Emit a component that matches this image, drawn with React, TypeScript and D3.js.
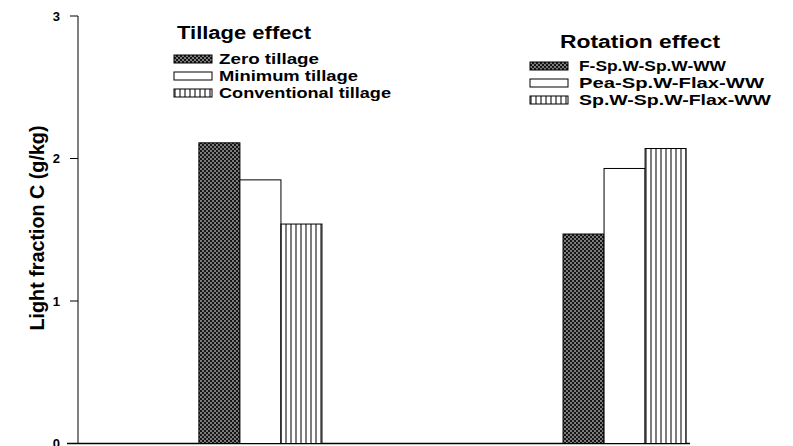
import React from 'react';
import * as d3 from 'd3';

const groups = ['Tillage effect', 'Rotation effect'];
const tillageLabels = ['Zero tillage', 'Minimum tillage', 'Conventional tillage'];
const rotationLabels = ['F-Sp.W-Sp.W-WW', 'Pea-Sp.W-Flax-WW', 'Sp.W-Sp.W-Flax-WW'];
const tillageValues = [2.11, 1.85, 1.54];
const rotationValues = [1.47, 1.93, 2.07];
const yTicks = [0, 1, 2, 3];

const fills = ['url(#stipple)', '#fff', 'url(#vlines)'];
const font = "'Liberation Sans', Arial, Helvetica, sans-serif";

const W = 793;
const H = 446;

// the scanned figure uses a wide Helvetica; stretch text to the widths it had
const titleWidths = [134, 160];
const legendWidths = [[100, 139, 172], [147, 185, 192]];

const App = () => {
  const y = d3.scaleLinear().domain([0, 3]).range([443.5, 16]);
  const x = d3.scaleBand().domain(groups).range([78, 807]).paddingInner(0.662).paddingOuter(0.332);
  const inner = d3.scaleBand().domain(['0', '1', '2']).range([0, x.bandwidth()]);

  const series = [
    { group: groups[0], values: tillageValues, labels: tillageLabels },
    { group: groups[1], values: rotationValues, labels: rotationLabels },
  ];
  // legend placement per group
  const legendPos = [
    { tx: 244, ty: 32, sx: 174, sy: 59, gap: 45 },
    { tx: 640, ty: 41, sx: 530, sy: 66, gap: 49 },
  ];

  return (
    <svg width={W} height={H} style={{ position: 'absolute', left: 0, top: 0, background: '#fff' }}>
      <defs>
        <pattern id="stipple" width="4" height="4" patternUnits="userSpaceOnUse">
          <rect width="4" height="4" fill="#151515" />
          <circle cx="1" cy="1" r="0.8" fill="#fff" />
          <circle cx="3" cy="3" r="0.8" fill="#fff" />
        </pattern>
        <pattern id="vlines" width="5" height="10" patternUnits="userSpaceOnUse">
          <rect width="5" height="10" fill="#fff" />
          <line x1="1" y1="0" x2="1" y2="10" stroke="#111" strokeWidth="1.1" />
        </pattern>
      </defs>

      {/* y axis */}
      <line x1={78} x2={78} y1={y(3)} y2={y(0)} stroke="#000" strokeWidth={1} />
      <line x1={67} x2={690} y1={y(0)} y2={y(0)} stroke="#000" strokeWidth={1.3} />
      {yTicks.map(t => (
        <g key={t}>
          <line x1={70} x2={78} y1={y(t)} y2={y(t)} stroke="#000" strokeWidth={1} />
          <text x={60} y={y(t) + 4.5} textAnchor="end" fontFamily={font} fontWeight="bold" fontSize={13}>{t}</text>
        </g>
      ))}
      <text
        transform={`translate(44,${228}) rotate(-90)`}
        textAnchor="middle"
        fontFamily={font}
        fontWeight="bold"
        fontSize={20}
        textLength={205}
        lengthAdjust="spacingAndGlyphs"
      >Light fraction C (g/kg)</text>

      {series.map((s, gi) => (
        <g key={s.group}>
          {s.values.map((v, i) => (
            <rect
              key={i}
              x={(x(s.group) as number) + (inner(String(i)) as number)}
              y={y(v)}
              width={inner.bandwidth()}
              height={y(0) - y(v)}
              fill={fills[i]}
              stroke="#000"
              strokeWidth={1}
            />
          ))}
          <text
            x={legendPos[gi].tx - titleWidths[gi] / 2}
            y={legendPos[gi].ty + 6.5}
            fontFamily={font}
            fontWeight="bold"
            fontSize={18}
            textLength={titleWidths[gi]}
            lengthAdjust="spacingAndGlyphs"
          >{s.group}</text>
          {s.labels.map((l, i) => (
            <g key={l} transform={`translate(${legendPos[gi].sx},${legendPos[gi].sy + i * 17})`}>
              <rect x={0} y={-4} width={38} height={8} fill={fills[i]} stroke="#000" strokeWidth={1} />
              <text
                x={legendPos[gi].gap}
                y={5}
                fontFamily={font}
                fontWeight="bold"
                fontSize={14}
                textLength={legendWidths[gi][i]}
                lengthAdjust="spacingAndGlyphs"
              >{l}</text>
            </g>
          ))}
        </g>
      ))}
    </svg>
  );
};

export default App;
